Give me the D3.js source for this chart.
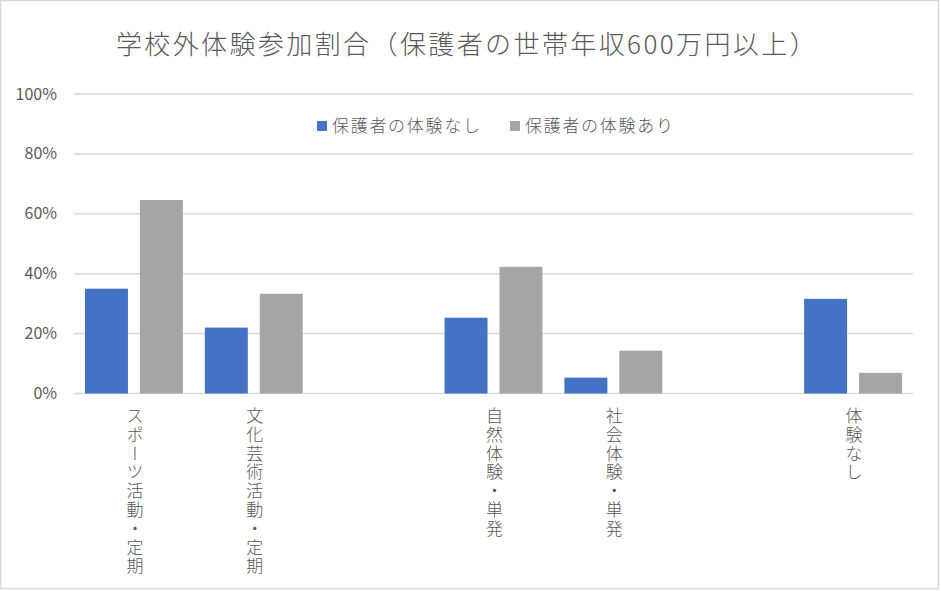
<!DOCTYPE html>
<html><head><meta charset="utf-8">
<script src="https://cdn.jsdelivr.net/npm/d3@7"></script>
<style>
html,body{margin:0;padding:0;background:#fff;}
svg{display:block;}
text{font-family:"Noto Sans CJK JP","Noto Sans",sans-serif;}
</style></head>
<body>
<svg id="chart" width="941" height="591"></svg>
<script>
const title = "学校外体験参加割合（保護者の世帯年収600万円以上）";
const categories = ["スポーツ活動・定期","文化芸術活動・定期","","自然体験・単発","社会体験・単発","","体験なし"];
const seriesNames = ["保護者の体験なし","保護者の体験あり"];
const seriesColors = ["#4472c4","#a5a5a5"];
const noExperience = [35.0, 22.0, null, 25.3, 5.3, null, 31.6];
const withExperience = [64.6, 33.3, null, 42.3, 14.3, null, 6.9];
const yTicks = [0, 20, 40, 60, 80, 100];

const svg = d3.select("#chart");
svg.append("rect").attr("x",0.5).attr("y",0.5).attr("width",938).attr("height",588)
  .attr("fill","#fff").attr("stroke","#d9d9d9").attr("stroke-width",1.5);

const x = d3.scaleBand().domain(d3.range(categories.length)).range([74, 913]).padding(0);
const x1 = d3.scaleBand().domain([0,1]).range([0, x.bandwidth()]).paddingInner(0.218).paddingOuter(0.2);
const y = d3.scaleLinear().domain([0,100]).range([393.5, 94]);

// gridlines
svg.append("g").selectAll("line").data(yTicks).join("line")
  .attr("x1",74).attr("x2",913)
  .attr("y1",d=>y(d)).attr("y2",d=>y(d))
  .attr("stroke","#d9d9d9").attr("stroke-width",1.5);

// y labels
svg.append("g").selectAll("text").data(yTicks).join("text")
  .attr("x",57).attr("y",d=>y(d)+5.5)
  .attr("text-anchor","end").attr("font-size",16).attr("fill","#595959")
  .text(d=>d+"%");

// bars
const series = [noExperience, withExperience];
series.forEach((vals,si)=>{
  svg.append("g").selectAll("rect")
    .data(vals.map((v,i)=>({v,i})).filter(d=>d.v!==null))
    .join("rect")
    .attr("x",d=>x(d.i)+x1(si))
    .attr("width",x1.bandwidth())
    .attr("y",d=>y(d.v))
    .attr("height",d=>y(0)-y(d.v))
    .attr("fill",seriesColors[si]);
});

// category labels (vertical)
svg.append("g").selectAll("text").data(categories.map((c,i)=>({c,i})).filter(d=>d.c))
  .join("text")
  .attr("x",d=>x(d.i)+x.bandwidth()/2+1)
  .attr("y",407)
  .attr("font-size",17).attr("font-weight",300).attr("fill","#595959")
  .style("writing-mode","vertical-rl")
  .style("letter-spacing","1.8px")
  .text(d=>d.c);

// title
svg.append("text").attr("x",467).attr("y",54).attr("text-anchor","middle")
  .attr("font-size",26).attr("font-weight",300).attr("fill","#595959")
  .style("letter-spacing","2.4px").text(title);

// legend
const legendX = [317, 510];
seriesNames.forEach((n,i)=>{
  svg.append("rect").attr("x",legendX[i]).attr("y",121).attr("width",10).attr("height",10).attr("fill",seriesColors[i]);
  svg.append("text").attr("x",legendX[i]+15).attr("y",132).attr("font-size",17).attr("font-weight",300)
    .attr("fill","#595959").style("letter-spacing","1.7px").text(n);
});
</script>
</body></html>
